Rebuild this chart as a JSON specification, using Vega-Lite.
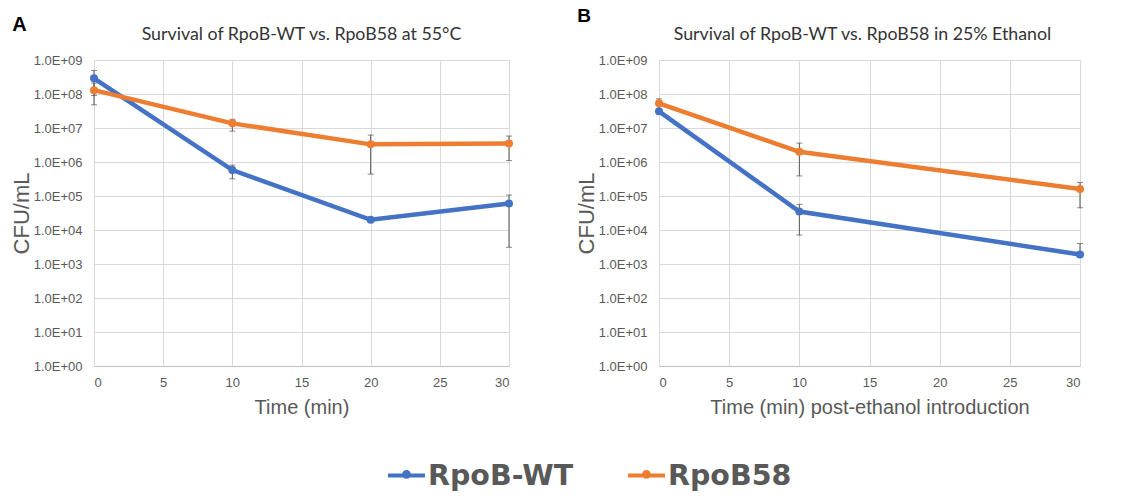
{
  "$schema": "https://vega.github.io/schema/vega-lite/v6.json",
  "padding": {"left": 10, "top": 7, "right": 5, "bottom": 5},
  "background": "white",
  "datasets": {
    "A": [
      {"strain": "RpoB-WT", "time": 0, "cfu": 290000000, "lo": 90000000, "hi": 490000000},
      {"strain": "RpoB-WT", "time": 10, "cfu": 580000, "lo": 320000, "hi": 810000},
      {"strain": "RpoB-WT", "time": 20, "cfu": 20000, "lo": 17000, "hi": 23000},
      {"strain": "RpoB-WT", "time": 30, "cfu": 60000, "lo": 3100, "hi": 107000},
      {"strain": "RpoB58", "time": 0, "cfu": 130000000, "lo": 48000000, "hi": 210000000},
      {"strain": "RpoB58", "time": 10, "cfu": 13700000, "lo": 8100000, "hi": 18000000},
      {"strain": "RpoB58", "time": 20, "cfu": 3300000, "lo": 440000, "hi": 6200000},
      {"strain": "RpoB58", "time": 30, "cfu": 3500000, "lo": 1100000, "hi": 5800000}
    ],
    "B": [
      {"strain": "RpoB-WT", "time": 0, "cfu": 31000000, "lo": 26000000, "hi": 36000000},
      {"strain": "RpoB-WT", "time": 10, "cfu": 35000, "lo": 7100, "hi": 57000},
      {"strain": "RpoB-WT", "time": 30, "cfu": 1900, "lo": 1900, "hi": 4000},
      {"strain": "RpoB58", "time": 0, "cfu": 53000000, "lo": 34000000, "hi": 72000000},
      {"strain": "RpoB58", "time": 10, "cfu": 2000000, "lo": 390000, "hi": 3600000},
      {"strain": "RpoB58", "time": 30, "cfu": 160000, "lo": 45000, "hi": 250000}
    ]
  },
  "spacing": 57,
  "hconcat": [
    {
      "title": {"text": "A", "anchor": "start", "frame": "bounds", "font": "Liberation Sans", "fontSize": 20, "fontWeight": "bold", "color": "#000000", "offset": 0, "dy": 9, "dx": 2},
      "vconcat": [
        {
          "title": {"text": "Survival of RpoB-WT vs. RpoB58 at 55°C"},
          "width": 415,
          "height": 306,
          "data": {"name": "A"},
          "encoding": {
            "x": {"field": "time", "type": "quantitative", "title": "Time (min)", "scale": {"domain": [0, 30], "nice": false}, "axis": {"values": [0, 5, 10, 15, 20, 25, 30]}}
          },
          "layer": [
            {
              "mark": {"type": "rule", "color": "#555555", "strokeWidth": 1},
              "encoding": {
                "y": {"field": "lo", "type": "quantitative", "title": "CFU/mL", "scale": {"type": "log", "domain": [1, 1000000000], "nice": false}, "axis": {"values": [1, 10, 100, 1000, 10000, 100000, 1000000, 10000000, 100000000, 1000000000], "labelExpr": "'1.0E+0' + round(log(datum.value)/LN10)"}},
                "y2": {"field": "hi"}
              }
            },
            {
              "mark": {"type": "tick", "orient": "horizontal", "size": 6, "thickness": 1, "color": "#555555"},
              "encoding": {"y": {"field": "lo", "type": "quantitative", "title": "CFU/mL", "scale": {"type": "log", "domain": [1, 1000000000], "nice": false}, "axis": {"values": [1, 10, 100, 1000, 10000, 100000, 1000000, 10000000, 100000000, 1000000000], "labelExpr": "'1.0E+0' + round(log(datum.value)/LN10)"}}}
            },
            {
              "mark": {"type": "tick", "orient": "horizontal", "size": 6, "thickness": 1, "color": "#555555"},
              "encoding": {"y": {"field": "hi", "type": "quantitative", "title": "CFU/mL", "scale": {"type": "log", "domain": [1, 1000000000], "nice": false}, "axis": {"values": [1, 10, 100, 1000, 10000, 100000, 1000000, 10000000, 100000000, 1000000000], "labelExpr": "'1.0E+0' + round(log(datum.value)/LN10)"}}}
            },
            {
              "mark": {"type": "line", "strokeWidth": 4.5, "point": {"filled": true, "size": 64, "opacity": 1}},
              "encoding": {
                "y": {"field": "cfu", "type": "quantitative", "title": "CFU/mL", "scale": {"type": "log", "domain": [1, 1000000000], "nice": false}, "axis": {"values": [1, 10, 100, 1000, 10000, 100000, 1000000, 10000000, 100000000, 1000000000], "labelExpr": "'1.0E+0' + round(log(datum.value)/LN10)"}},
                "color": {
                  "field": "strain", "type": "nominal",
                  "scale": {"domain": ["RpoB-WT", "RpoB58"], "range": ["#4472C4", "#ED7D31"]},
                  "legend": {
                    "orient": "none", "legendX": 294, "legendY": 397, "direction": "horizontal", "title": null,
                    "symbolType": "M-1,-0.11H1V0.11H-1Z M0.24,-0.06A0.24,0.24 0 1,1 -0.24,-0.06A0.24,0.24 0 1,1 0.24,-0.06Z",
                    "symbolSize": 1369, "symbolStrokeWidth": 0,
                    "labelFont": "DejaVu Sans", "labelFontWeight": "bold", "labelFontSize": 28.5, "labelColor": "#595959",
                    "labelOffset": 3, "columnPadding": 54, "labelLimit": 0,
                    "encode": {"symbols": {"update": {"fill": {"scale": "color", "field": "value"}, "opacity": {"value": 1}}}}
                  }
                }
              }
            }
          ]
        }
      ]
    },
    {
      "title": {"text": "B", "anchor": "start", "frame": "bounds", "font": "Liberation Sans", "fontSize": 19, "fontWeight": "bold", "color": "#000000", "offset": 0, "dx": 2},
      "vconcat": [
        {
          "title": {"text": "Survival of RpoB-WT vs. RpoB58 in 25% Ethanol", "dx": -7},
          "width": 421,
          "height": 306,
          "data": {"name": "B"},
          "encoding": {
            "x": {"field": "time", "type": "quantitative", "title": "Time (min) post-ethanol introduction", "scale": {"domain": [0, 30], "nice": false}, "axis": {"values": [0, 5, 10, 15, 20, 25, 30]}}
          },
          "layer": [
            {
              "mark": {"type": "rule", "color": "#555555", "strokeWidth": 1},
              "encoding": {
                "y": {"field": "lo", "type": "quantitative", "title": "CFU/mL", "scale": {"type": "log", "domain": [1, 1000000000], "nice": false}, "axis": {"values": [1, 10, 100, 1000, 10000, 100000, 1000000, 10000000, 100000000, 1000000000], "labelExpr": "'1.0E+0' + round(log(datum.value)/LN10)"}},
                "y2": {"field": "hi"}
              }
            },
            {
              "mark": {"type": "tick", "orient": "horizontal", "size": 6, "thickness": 1, "color": "#555555"},
              "encoding": {"y": {"field": "lo", "type": "quantitative", "title": "CFU/mL", "scale": {"type": "log", "domain": [1, 1000000000], "nice": false}, "axis": {"values": [1, 10, 100, 1000, 10000, 100000, 1000000, 10000000, 100000000, 1000000000], "labelExpr": "'1.0E+0' + round(log(datum.value)/LN10)"}}}
            },
            {
              "mark": {"type": "tick", "orient": "horizontal", "size": 6, "thickness": 1, "color": "#555555"},
              "encoding": {"y": {"field": "hi", "type": "quantitative", "title": "CFU/mL", "scale": {"type": "log", "domain": [1, 1000000000], "nice": false}, "axis": {"values": [1, 10, 100, 1000, 10000, 100000, 1000000, 10000000, 100000000, 1000000000], "labelExpr": "'1.0E+0' + round(log(datum.value)/LN10)"}}}
            },
            {
              "mark": {"type": "line", "strokeWidth": 4.5, "point": {"filled": true, "size": 64, "opacity": 1}},
              "encoding": {
                "y": {"field": "cfu", "type": "quantitative", "title": "CFU/mL", "scale": {"type": "log", "domain": [1, 1000000000], "nice": false}, "axis": {"values": [1, 10, 100, 1000, 10000, 100000, 1000000, 10000000, 100000000, 1000000000], "labelExpr": "'1.0E+0' + round(log(datum.value)/LN10)"}},
                "color": {
                  "field": "strain", "type": "nominal",
                  "scale": {"domain": ["RpoB-WT", "RpoB58"], "range": ["#4472C4", "#ED7D31"]},
                  "legend": {
                    "orient": "none", "legendX": 294, "legendY": 397, "direction": "horizontal", "title": null,
                    "symbolType": "M-1,-0.11H1V0.11H-1Z M0.24,-0.06A0.24,0.24 0 1,1 -0.24,-0.06A0.24,0.24 0 1,1 0.24,-0.06Z",
                    "symbolSize": 1369, "symbolStrokeWidth": 0,
                    "labelFont": "DejaVu Sans", "labelFontWeight": "bold", "labelFontSize": 28.5, "labelColor": "#595959",
                    "labelOffset": 3, "columnPadding": 54, "labelLimit": 0,
                    "encode": {"symbols": {"update": {"fill": {"scale": "color", "field": "value"}, "opacity": {"value": 1}}}}
                  }
                }
              }
            }
          ]
        }
      ]
    }
  ],
  "config": {
    "view": {"stroke": null},
    "font": "Liberation Sans",
    "axis": {
      "gridColor": "#d9d9d9", "gridWidth": 1, "grid": true,
      "labelColor": "#595959", "labelFontSize": 13, "labelFont": "Liberation Sans",
      "titleColor": "#595959", "titleFont": "Liberation Sans", "titleFontWeight": "normal",
      "ticks": false, "domain": false, "labelPadding": 10
    },
    "axisX": {"domain": true, "domainColor": "#bfbfbf", "titleFontSize": 20, "titlePadding": 8},
    "axisY": {"titleFontSize": 22, "titlePadding": 0, "labelPadding": 12},
    "title": {"font": "Lato", "fontSize": 17.8, "fontWeight": "normal", "color": "#333333", "offset": 10}
  }
}
